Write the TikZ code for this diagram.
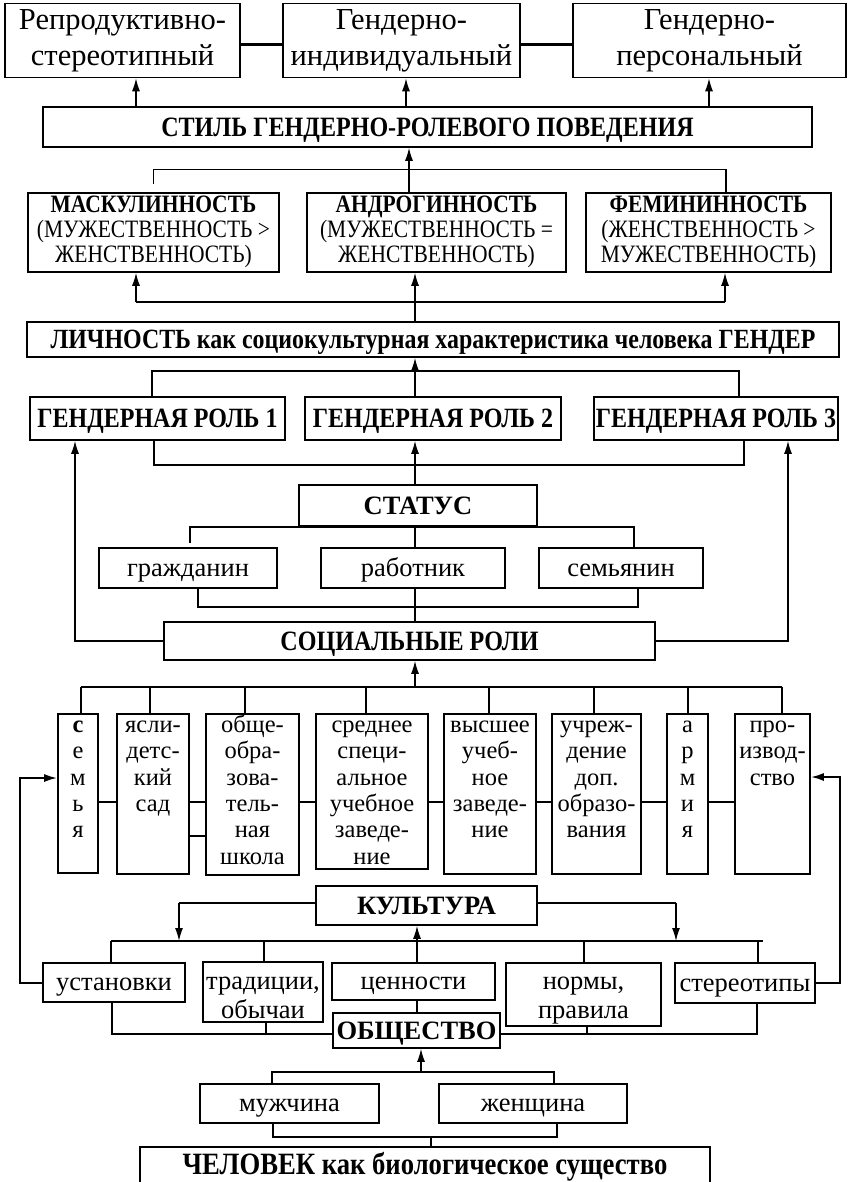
\documentclass[tikz,border=0pt]{standalone}
\usepackage{fontspec}
\setmainfont{Liberation Serif}
\newfontfamily\narrow[FakeStretch=0.86]{Liberation Serif}
\usetikzlibrary{arrows.meta}
\newcommand{\ml}[1]{\begin{tabular}{@{}c@{}}#1\end{tabular}}
\newcommand{\mlt}[1]{\begin{tabular}[t]{@{}c@{}}#1\end{tabular}}
\newcommand{\coltext}[3]{\parbox[c][#2pt][t]{#1pt}{\centering\strut #3}}

\begin{document}
\begin{tikzpicture}
	[x=1pt,y=-1pt,
	box/.style={draw, line width=1.6pt, inner sep=1pt},
	toprow/.style={box, font=\fontsize{30.5}{36}\selectfont, minimum height=73pt},
	head/.style 2 args={box, font=\narrow\bfseries\fontsize{#1}{#1}\selectfont, text height=#2pt, text depth=0pt},
	plainhead/.style={box, font=\bfseries\fontsize{26.5}{28}\selectfont, text height=17.5pt, text depth=0pt},
	trio/.style={box, font=\narrow\fontsize{25}{25}\selectfont, minimum height=79pt},
	word/.style={box, font=\fontsize{26.5}{29}\selectfont, text height=19pt, text depth=3pt},
	words/.style={box, font=\fontsize{26.5}{29}\selectfont},
	inst/.style={box, anchor=north, font=\fontsize{24.5}{26.4}\selectfont, inner sep=0pt},
	link/.style={line width=1.3pt},
	fat/.style={line width=2.5pt},
	arr/.style={line width=1.3pt, -{Latex[length=13pt,width=8pt]}}]
	\useasboundingbox (0,0) rectangle (849,1182);
	\clip (0,0) rectangle (849,1182);

	\node[toprow, minimum width=235pt] (rep) at (122.5,40.5) {\ml{Репродуктивно-\\стереотипный}};
	\node[toprow, minimum width=237pt] (ind) at (401.5,40.5) {\ml{Гендерно-\\индивидуальный}};
	\node[toprow, minimum width=273pt] (pers) at (709.5,40.5) {\ml{Гендерно-\\персональный}};
	\node[head={28}{18.5}, minimum width=769pt, minimum height=40pt] (stil) at (427.5,127) {СТИЛЬ ГЕНДЕРНО-РОЛЕВОГО ПОВЕДЕНИЯ};

	\node[trio, minimum width=251pt] (masc) at (153.5,232.5) {\ml{{\bfseries МАСКУЛИННОСТЬ}\\(МУЖЕСТВЕННОСТЬ >\\ЖЕНСТВЕННОСТЬ)}};
	\node[trio, minimum width=259pt] (andro) at (436.5,232.5) {\ml{{\bfseries АНДРОГИННОСТЬ}\\(МУЖЕСТВЕННОСТЬ =\\ЖЕНСТВЕННОСТЬ)}};
	\node[trio, minimum width=245pt] (fem) at (708.5,232.5) {\ml{{\bfseries ФЕМИНИННОСТЬ}\\(ЖЕНСТВЕННОСТЬ >\\МУЖЕСТВЕННОСТЬ)}};
	\node[head={27.8}{18.3}, minimum width=812pt, minimum height=35pt] (lichn) at (433,339.5) {ЛИЧНОСТЬ как социокультурная характеристика человека ГЕНДЕР};

	\node[head={27.9}{18.4}, minimum width=255pt, minimum height=43pt] (gr1) at (157.5,418.5) {ГЕНДЕРНАЯ РОЛЬ 1};
	\node[head={27.9}{18.4}, minimum width=256pt, minimum height=43pt] (gr2) at (433,418.5) {ГЕНДЕРНАЯ РОЛЬ 2};
	\node[head={27.9}{18.4}, minimum width=244pt, minimum height=43pt] (gr3) at (716,418.5) {ГЕНДЕРНАЯ РОЛЬ 3};

	\node[plainhead, minimum width=238pt, minimum height=41pt] (status) at (418,505.5) {СТАТУС};
	\node[word, minimum width=178pt, minimum height=40pt] (cit) at (188,568) {гражданин};
	\node[word, minimum width=184pt, minimum height=40pt] (work) at (413,568) {работник};
	\node[word, minimum width=164pt, minimum height=40pt] (fam) at (621,568) {семьянин};
	\node[head={28}{18.5}, minimum width=491pt, minimum height=38pt] (social) at (409.5,641) {СОЦИАЛЬНЫЕ РОЛИ};

	\node[inst] (semya) at (78,713) {\coltext{40}{159}{{\bfseries с}\\е\\м\\ь\\я}};
	\node[inst] (yasli) at (153,713) {\coltext{72}{160}{ясли-\\детс-\\кий\\сад}};
	\node[inst] (obshe) at (252.5,713) {\coltext{93}{161}{обще-\\обра-\\зова-\\тель-\\ная\\школа}};
	\node[inst] (sred) at (372,713) {\coltext{112}{155}{среднее\\специ-\\альное\\учебное\\заведе-\\ние}};
	\node[inst] (vyssh) at (490,713) {\coltext{92}{160}{высшее\\учеб-\\ное\\заведе-\\ние}};
	\node[inst] (uchr) at (596.5,713) {\coltext{89}{160}{учреж-\\дение\\доп.\\образо-\\вания}};
	\node[inst] (army) at (687.5,713) {\coltext{41}{160}{а\\р\\м\\и\\я}};
	\node[inst] (proizv) at (772.5,713) {\coltext{75}{160}{про-\\извод-\\ство}};

	\node[plainhead, minimum width=221pt, minimum height=39pt] (kult) at (426.5,905.5) {КУЛЬТУРА};
	\node[word, minimum width=142pt, minimum height=39pt] (ust) at (114,982.5) {установки};
	\node[words, text height=26pt, text depth=32pt, minimum width=120pt, minimum height=58pt] (trad) at (263,992) {\mlt{традиции,\\обычаи}};
	\node[word, minimum width=163pt, minimum height=37pt] (cenn) at (413.5,981.5) {ценности};
	\node[words, text height=23.5pt, text depth=34.5pt, minimum width=155pt, minimum height=63pt] (norm) at (583.5,994.5) {\mlt{нормы,\\правила}};
	\node[word, minimum width=140pt, minimum height=40pt] (ster) at (745,983) {стереотипы};
	\node[plainhead, minimum width=167pt, minimum height=35pt] (obsh) at (416.5,1030.5) {ОБЩЕСТВО};

	\node[word, minimum width=179pt, minimum height=39pt] (men) at (289.5,1103.5) {мужчина};
	\node[word, minimum width=188pt, minimum height=39pt] (women) at (533,1103.5) {женщина};
	\node[head={31}{20.4}, text depth=6.4pt, minimum width=570pt, minimum height=40pt] (chel) at (425,1167) {ЧЕЛОВЕК как биологическое существо};

	\draw[fat] ([yshift=-4pt]rep.east) -- ([yshift=-4pt]ind.west);
	\draw[fat] ([yshift=-4pt]ind.east) -- ([yshift=-4pt]pers.west);
	\foreach \n/\x in {rep/136, ind/406, pers/709}
		\draw[arr] (stil.north -| \x,0) -- (\n.south -| \x,0);
	\draw[link] ([yshift=8pt]masc.north) -- ++(0,-15) -| (fem.north -| 726,0);
	\draw[arr] (andro.north -| 409,0) -- (stil.south -| 409,0);

	\coordinate (m1) at (136,302);
	\coordinate (m2) at (725,302);
	\draw[fat] (m1) -- (m2);
	\draw[arr] (m1) -- (masc.south -| m1);
	\draw[arr] (m2) -- (fem.south -| m2);
	\draw[arr] (lichn.north -| 415,0) -- (andro.south -| 415,0);

	\coordinate (g1) at (152,371);
	\coordinate (g3) at (739,371);
	\draw[link] (gr1.north -| g1) -- (g1) -- (g3) -- (gr3.north -| g3);
	\draw[arr] (gr2.north -| 415,0) -- (lichn.south -| 415,0);
	\coordinate (h1) at (154,465);
	\coordinate (h3) at (744,465);
	\draw[fat] (gr1.south -| h1) -- (h1) -- (h3) -- (gr3.south -| h3);
	\draw[arr] (status.north -| 415,0) -- (gr2.south -| 415,0);

	\coordinate (s1) at (190,527);
	\coordinate (s3) at (634,527);
	\draw[fat] ([yshift=4pt]cit.north -| s1) -- (s1) -- (s3) -- (fam.north -| s3);
	\draw[link] (status.south -| 415,0) -- (work.north -| 415,0);
	\draw[link] (work.south -| 415,0) -- (social.north -| 415,0);
	\coordinate (c1) at (198,607);
	\coordinate (c3) at (638,607);
	\draw[fat] (cit.south -| c1) -- (c1) -- (c3) -- (fam.south -| c3);
	\coordinate (l1) at (75,639);
	\coordinate (r1) at (788,639);
	\draw[arr] (social.west) -| (gr1.south -| l1);
	\draw[arr] (social.east) -| (gr3.south -| r1);

	\coordinate (i1) at (81,687);
	\coordinate (i8) at (782,687);
	\draw[fat] (i1) -- (i8);
	\foreach \n/\x in {semya/81, yasli/150, obshe/245, sred/366, vyssh/489, uchr/594, army/688, proizv/782}
		\draw[link] (\x,0 |- i1) -- (\n.north -| \x,0);
	\draw[arr] (415,0 |- i1) -- (social.south -| 415,0);
	\foreach \a/\b in {semya/yasli, yasli/obshe, obshe/sred, sred/vyssh, vyssh/uchr, uchr/army, army/proizv}
		\draw[fat] (\a.east |- 0,802) -- (\b.west |- 0,802);
	\draw[fat] (yasli.east |- 0,836) -- (obshe.west |- 0,836);

	\coordinate (lf) at (20,778);
	\coordinate (rf) at (840,777);
	\draw[arr, line width=2pt] (ust.west) -| (lf) -- (semya.west |- lf);
	\draw[arr, line width=2pt] (ster.east) -| (rf) -- (proizv.east |- rf);

	\coordinate (k1) at (179,903);
	\coordinate (k3) at (676,903);
	\coordinate (b1) at (111,941);
	\coordinate (b5) at (763,941);
	\draw[fat] (kult.west |- k1) -- (k1);
	\draw[fat] (kult.east |- k3) -- (k3);
	\draw[arr] (k1) -- (b1 -| k1);
	\draw[arr] (k3) -- (b1 -| k3);
	\draw[fat] (b1) -- (b5);
	\foreach \n/\x in {ust/111, trad/264, norm/584, ster/758}
		\draw[link] (\x,0 |- b1) -- (\n.north -| \x,0);
	\draw[arr] (cenn.north -| 417,0) -- (kult.south -| 417,0);

	\draw[link] (cenn.south -| 417,0) -- (obsh.north -| 417,0);
	\coordinate (o1) at (112,1034);
	\coordinate (o4) at (757,1034);
	\draw[fat] (ust.south -| o1) -- (o1) -- (obsh.west |- o1);
	\draw[fat] (obsh.east |- o1) -- (o4) -- (ster.south -| o4);
	\draw[link] (trad.south -| 266,0) -- (266,0 |- o1);
	\draw[link] (norm.south -| 587,0) -- (587,0 |- o1);

	\coordinate (u1) at (272,1072);
	\coordinate (u2) at (554,1072);
	\draw[line width=2pt] (men.north -| u1) -- (u1) -- (u2) -- (women.north -| u2);
	\draw[arr] (421,0 |- u1) -- (obsh.south -| 421,0);
	\coordinate (d1) at (273,1137);
	\coordinate (d2) at (557,1137);
	\draw[fat] (men.south -| d1) -- (d1) -- (d2) -- (women.south -| d2);
	\draw[link] (431,0 |- d1) -- (chel.north -| 431,0);
\end{tikzpicture}
\end{document}
